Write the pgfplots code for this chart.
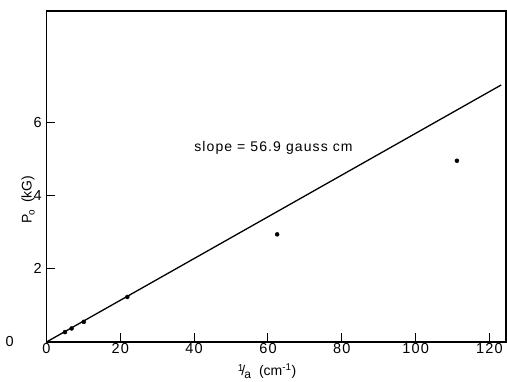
\documentclass[border=0pt]{standalone}
\usepackage{fontspec}
\setmainfont{Liberation Sans}
\usepackage{pgfplots}
\pgfplotsset{compat=1.18}
\begin{document}
\fontsize{14}{16}\selectfont
\begin{tikzpicture}
\begin{axis}[
  name=ax,
  scale only axis,
  width=459.5pt, height=331pt,
  xmin=0, xmax=124.5, ymin=0, ymax=9.04,
  xtick={0,20,40,60,80,100,120},
  ytick={0,2,4,6},
  yticklabels={0\rule{28pt}{0pt},2,4,6},
  tick align=inside,
  xtick pos=bottom, ytick pos=left,
  major tick length=9pt,
  every tick/.style={black, line width=1pt},
  axis line style={line width=1.2pt},
  /pgf/number format/assume math mode=true,
  tick label style={font=\fontsize{14.5}{16}\selectfont\addfontfeature{LetterSpace=8}},
  xticklabel style={yshift=3pt},
  xlabel={\raisebox{4pt}{\fontsize{10}{10}\selectfont 1}\kern-2pt/\kern-1pt\raisebox{-3pt}{\fontsize{12}{12}\selectfont a}\hspace{8pt}(cm\textsuperscript{-1})},
  xlabel style={at={(axis description cs:0.48,0)}, anchor=north, yshift=-17pt, font=\fontsize{14}{16}\selectfont},
  ylabel={P\kern-1pt\raisebox{-3pt}{\fontsize{10}{10}\selectfont o}\hspace{7pt}(kG)},
  ylabel style={at={(axis description cs:-0.04,0.43)}, anchor=center, font=\fontsize{14}{16}\selectfont},
  clip=false,
]
\addplot[black, line width=1.3pt, no marks] coordinates {(0,0) (123.2,7.02)};
\addplot[only marks, mark=*, mark size=2pt, black] coordinates {
  (5.0,0.27) (6.8,0.37) (10.1,0.55) (21.9,1.23) (62.5,2.94) (111.2,4.95)
};
\node[anchor=center, font=\fontsize{14}{16}\selectfont\addfontfeature{LetterSpace=8}] at (axis cs:61.5,5.3) {slope = 56.9 gauss cm};
\end{axis}
\pgfresetboundingbox
\path ([shift={(-46.5pt,-39pt)}]ax.south west) rectangle ([shift={(1pt,11pt)}]ax.north east);
\end{tikzpicture}
\end{document}
